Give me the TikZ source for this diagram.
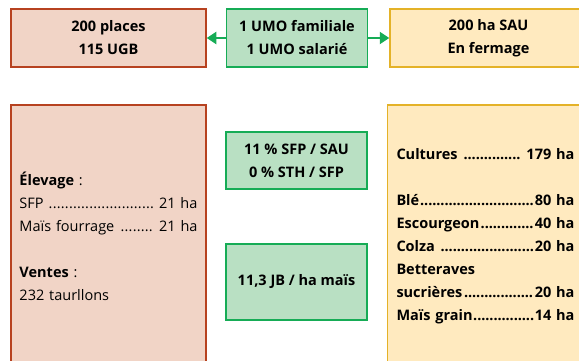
\documentclass[tikz,border=0pt]{standalone}
\usepackage{fontspec}
\setmainfont{Open Sans}
\usetikzlibrary{arrows.meta,positioning}
\definecolor{cHerdFill}{RGB}{241,212,198}
\definecolor{cHerdLine}{RGB}{183,66,32}
\definecolor{cWorkFill}{RGB}{185,224,195}
\definecolor{cWorkLine}{RGB}{22,172,86}
\definecolor{cCropFill}{RGB}{255,234,191}
\definecolor{cCropLine}{RGB}{228,178,40}
\newcommand\dotrow{\cleaders\hbox to 0.28em{\hss.\hss}\hfill}

\begin{document}
\begin{tikzpicture}[x=1pt,y=-1pt,
  every node/.style={font=\fontsize{14.5}{23}\selectfont,inner sep=0pt},
  herd/.style={draw=cHerdLine,fill=cHerdFill,line width=1.5pt},
  work/.style={draw=cWorkLine,fill=cWorkFill,line width=1.5pt,minimum width=141pt,align=center,font=\fontsize{14.5}{23}\selectfont\bfseries},
  crop/.style={draw=cCropLine,fill=cCropFill,line width=1.5pt},
  flow/.style={cWorkLine,line width=2pt,-{Triangle[length=9.5pt,width=12pt]}}]
  \useasboundingbox (0,0) rectangle (579,360);
  \clip (0,0) rectangle (579,360);
  \node[herd,minimum width=195pt,minimum height=58pt,align=center,font=\fontsize{14.5}{23}\selectfont\bfseries] (places) at (108.5,38) {200 places\\115 UGB};
  \node[work,minimum height=58pt] (umo) at (297,38) {1 UMO familiale\\1 UMO salarié};
  \node[crop,minimum width=197pt,minimum height=58pt,align=center,font=\fontsize{14.5}{23}\selectfont\bfseries] (sau) at (488.5,38) {200 ha SAU\\En fermage};
  \draw[flow] (umo.west) -- (places.east);
  \draw[flow] (umo.east) -- (sau.west);
  \node[herd,minimum height=263pt,text width=178pt,inner xsep=8.5pt,align=left] (herdbox) at (108.5,236.5)
    {\textbf{Élevage} :\\
     SFP \dotrow\ 21 ha\\
     Maïs fourrage \dotrow\ 21 ha\\[23pt]
     \textbf{Ventes} :\\
     232 taurllons};
  \node[work,minimum height=57pt] (ratio) at (296.5,160.5) {11 \% SFP / SAU\\0 \% STH / SFP};
  \node[work,minimum height=76pt] (load) at (296.5,282) {11,3 JB / ha maïs};
  \node[crop,minimum height=263pt,text width=178pt,inner xsep=9pt,align=left,font=\fontsize{14.5}{23}\selectfont\bfseries] (cropbox) at (485.5,236.5)
    {\textbf{Cultures} \dotrow\ \textbf{179 ha}\\[23pt]
     Blé\dotrow 80 ha\\
     Escourgeon\dotrow 40 ha\\
     Colza \dotrow 20 ha\\
     Betteraves\\
     sucrières\dotrow 20 ha\\
     Maïs grain\dotrow 14 ha};
\end{tikzpicture}
\end{document}
